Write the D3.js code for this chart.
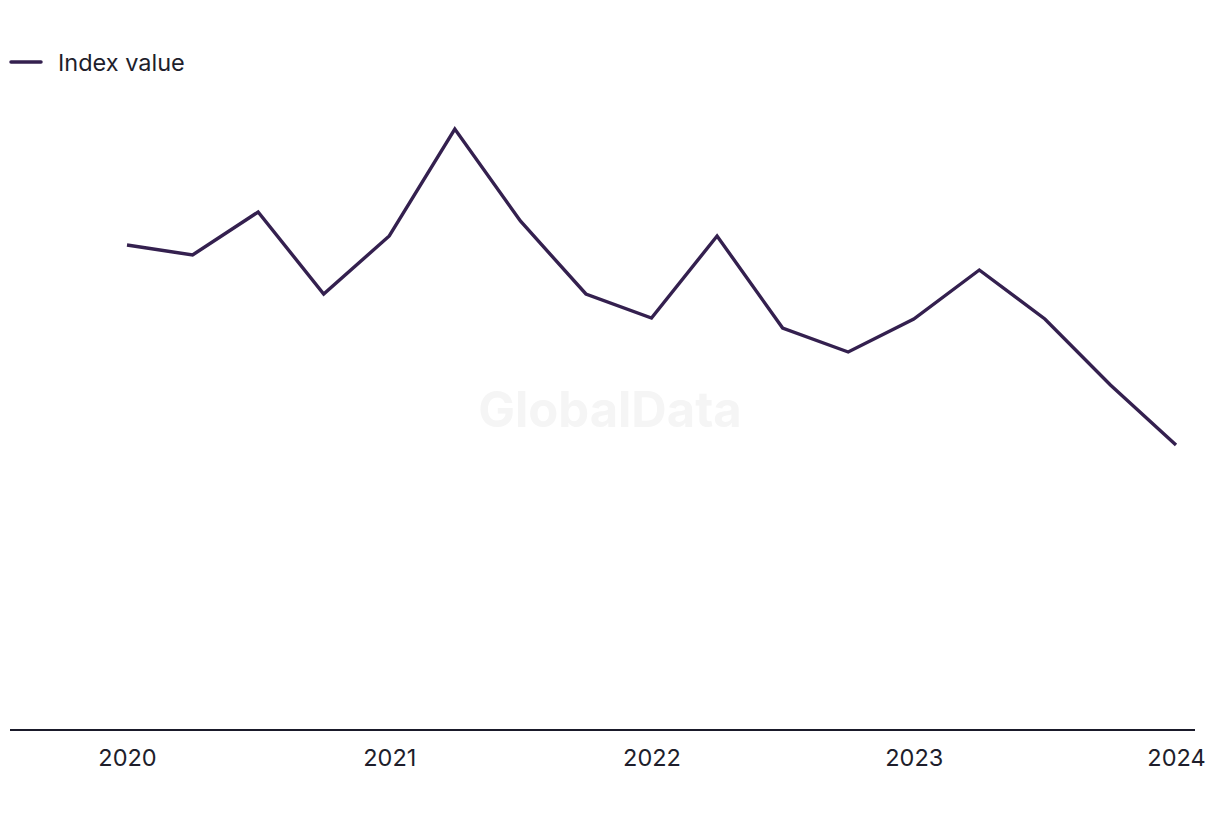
<!DOCTYPE html>
<html><head><meta charset="utf-8">
<script src="https://cdn.jsdelivr.net/npm/d3@7"></script>
<style>body{margin:0;background:#fff;} svg{display:block;}</style>
</head><body>
<svg id="c" width="1220" height="820"></svg>
<script>
const quarters = ["2020 Q1","2020 Q2","2020 Q3","2020 Q4","2021 Q1","2021 Q2","2021 Q3","2021 Q4","2022 Q1","2022 Q2","2022 Q3","2022 Q4","2023 Q1","2023 Q2","2023 Q3","2023 Q4","2024 Q1"];
const indexValues = [97, 95, 103.6, 87.2, 98.8, 120.2, 101.8, 87.2, 82.4, 98.8, 80.4, 75.6, 82.2, 92, 82.2, 69, 57];
const yearTicks = [0, 4, 8, 12, 16];
const yearLabels = ["2020","2021","2022","2023","2024"];
const seriesName = "Index value";

const svg = d3.select("#c");
const font = "Inter, 'Noto Sans', sans-serif";
const x = d3.scaleLinear().domain([0, quarters.length - 1]).range([127, 1176]);
const y = d3.scaleLinear().domain([0, 120]).range([730, 130]);

// watermark
svg.append("text").attr("x", 610).attr("y", 427).attr("text-anchor","middle")
  .attr("font-family", font).attr("font-weight", 700).attr("font-size", 49)
  .attr("fill", "#f5f5f5").text("GlobalData");

// axis
const axis = d3.axisBottom(x).tickValues(yearTicks).tickFormat((d,i)=>yearLabels[i]).tickSize(0).tickPadding(19);
const g = svg.append("g").attr("transform", `translate(0,${y(0)})`).call(axis);
g.select(".domain").remove();
g.selectAll("text").attr("font-family", font).attr("font-size", 23.5).attr("fill", "#1e1e2c");
svg.append("line").attr("x1", 10).attr("x2", 1195).attr("y1", y(0)).attr("y2", y(0))
  .attr("stroke", "#1a1a2a").attr("stroke-width", 2);

// line
const line = d3.line().x((d,i)=>x(i)).y(d=>y(d));
svg.append("path").datum(indexValues).attr("d", line).attr("fill","none")
  .attr("stroke", "#34204f").attr("stroke-width", 3.4).attr("stroke-linejoin","miter");

// legend
svg.append("line").attr("x1", 11).attr("x2", 41).attr("y1", 62).attr("y2", 62)
  .attr("stroke", "#34204f").attr("stroke-width", 3.5).attr("stroke-linecap","round");
svg.append("text").attr("x", 58).attr("y", 70.5).attr("font-family", font).attr("font-size", 23.5)
  .attr("fill", "#1e1e2c").text(seriesName);
</script>
</body></html>
